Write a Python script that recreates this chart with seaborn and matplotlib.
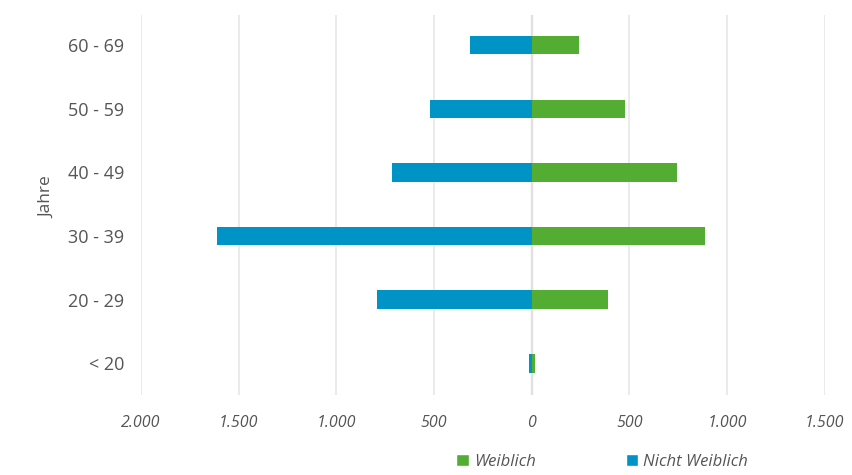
import pandas as pd
import seaborn as sns
import matplotlib.pyplot as plt
from matplotlib.patches import Patch
from matplotlib.ticker import FuncFormatter

# Age groups (top to bottom) and counts per group
age_groups = ['60 - 69', '50 - 59', '40 - 49', '30 - 39', '20 - 29', '< 20']
weiblich = [240, 480, 745, 885, 390, 15]
nicht_weiblich = [315, 520, 715, 1610, 790, 15]

green = '#52ad32'
blue = '#0093c6'

# Long-form table, Nicht Weiblich drawn to the left as negative values
df = pd.DataFrame({
    'Jahre': age_groups * 2,
    'Anzahl': weiblich + [-v for v in nicht_weiblich],
    'Geschlecht': ['Weiblich'] * len(age_groups) + ['Nicht Weiblich'] * len(age_groups),
})

sns.set_style('white')
plt.rcParams['font.family'] = ['Open Sans', 'DejaVu Sans']

fig = plt.figure(figsize=(8.52, 4.75), dpi=100)
ax = fig.add_axes([0.1655, 0.168, 0.8025, 0.8])

sns.barplot(data=df, x='Anzahl', y='Jahre', hue='Geschlecht', order=age_groups,
            palette={'Weiblich': green, 'Nicht Weiblich': blue}, saturation=1,
            dodge=False, width=0.29, orient='h', legend=False, ax=ax,
            edgecolor='none', linewidth=0)

ax.set_xlim(-2000, 1500)
ax.set_ylim(5.5, -0.47)
ax.set_xticks(range(-2000, 1501, 500))
ax.xaxis.set_major_formatter(FuncFormatter(lambda v, p: f'{abs(int(v)):,}'.replace(',', '.')))
ax.grid(axis='x', color='#e6e6e6', linewidth=1.2)
ax.set_axisbelow(True)
ax.axvline(0, color='#cccccc', linewidth=1.6, zorder=0.5)
for s in ax.spines.values():
    s.set_visible(False)

ax.tick_params(axis='x', length=0, pad=14, labelsize=11.5, labelcolor='#555555')
ax.tick_params(axis='y', length=0, pad=12, labelsize=13, labelcolor='#555555')
for lab in ax.get_xticklabels():
    lab.set_fontstyle('italic')
ax.set_xlabel('')
ax.set_ylabel('Jahre', fontsize=12.5, color='#555555')
ax.yaxis.set_label_coords(-0.125, 0.52)

handles = [Patch(facecolor=green, label='Weiblich'), Patch(facecolor=blue, label='Nicht Weiblich')]
leg = fig.legend(handles=handles, loc='center', bbox_to_anchor=(0.707, 0.027), ncol=2,
                 frameon=False, handlelength=0.75, handleheight=0.75, handletextpad=0.3,
                 columnspacing=5.4, prop={'size': 12, 'style': 'italic'})
for t in leg.get_texts():
    t.set_color('#555555')

fig.savefig('out.png', dpi=100)
